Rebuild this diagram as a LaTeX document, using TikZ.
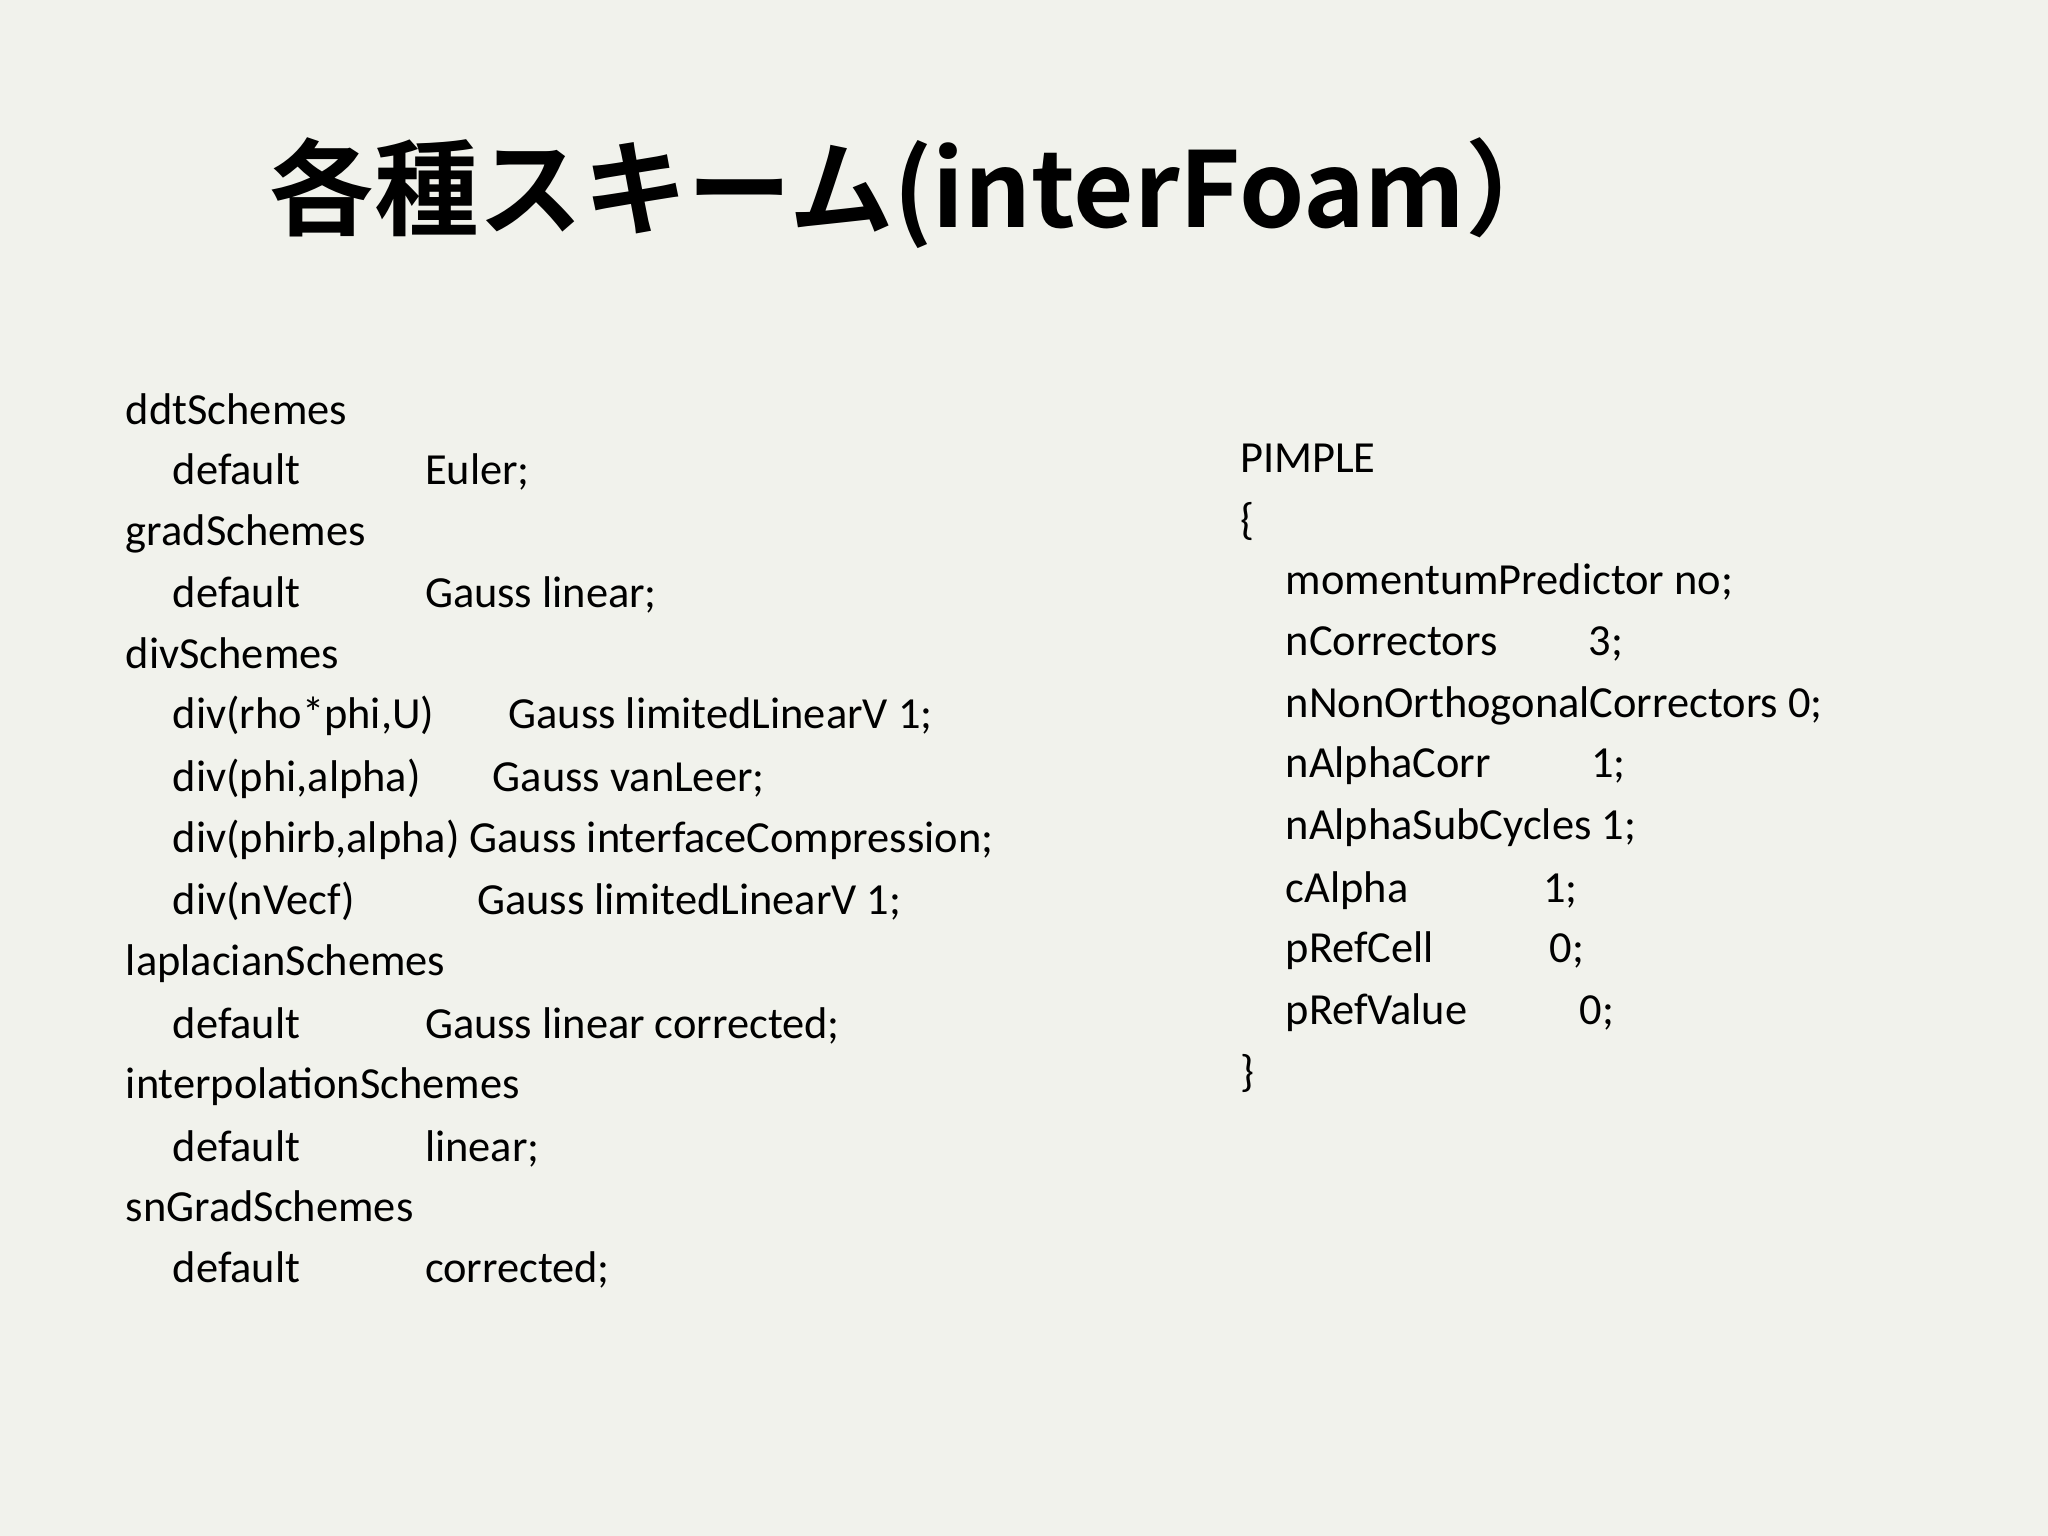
\documentclass[tikz,border=0pt]{standalone}
\usepackage{fontspec}
\setmainfont{Carlito}
\newfontfamily\jp{Noto Sans CJK JP}[BoldFont={* Bold}]
\begin{document}
\begin{tikzpicture}[x=0.5bp,y=-0.5bp,
  t/.style={anchor=base west,inner sep=0pt,font=\fontsize{17bp}{20bp}\selectfont}]
\fill[fill={rgb,255:red,241;green,242;blue,236}] (0,0) rectangle (1568,1176);
\useasboundingbox (0,0) rectangle (1568,1176);
\node[anchor=west,inner sep=0pt,font=\jp\bfseries\fontsize{40bp}{48bp}\selectfont] (title) at (206,148) {各種スキーム(interFoam）};
% left column
\node[t] (l1) at (96,325) {ddtSchemes};
\node[t] (l2a) at (132,371) {default}; \node[t] (l2b) at (325,371) {Euler;};
\node[t] (l3) at (96,418) {gradSchemes};
\node[t] (l4a) at (132,465) {default}; \node[t] (l4b) at (325,465) {Gauss linear;};
\node[t] (l5) at (96,512) {divSchemes};
\node[t] (l6a) at (132,558) {div(rho*phi,U)}; \node[t] (l6b) at (389,558) {Gauss limitedLinearV 1;};
\node[t] (l7a) at (132,606) {div(phi,alpha)}; \node[t] (l7b) at (377,606) {Gauss vanLeer;};
\node[t] (l8) at (132,653) {div(phirb,alpha) Gauss interfaceCompression;};
\node[t] (l9a) at (132,700) {div(nVecf)}; \node[t] (l9b) at (365,700) {Gauss limitedLinearV 1;};
\node[t] (l10) at (96,747) {laplacianSchemes};
\node[t] (l11a) at (132,795) {default}; \node[t] (l11b) at (325,795) {Gauss linear corrected;};
\node[t] (l12) at (96,841) {interpolationSchemes};
\node[t] (l13a) at (132,889) {default}; \node[t] (l13b) at (325,889) {linear;};
\node[t] (l14) at (96,935) {snGradSchemes};
\node[t] (l15a) at (132,982) {default}; \node[t] (l15b) at (325,982) {corrected;};
% right column
\node[t] (r1) at (949,362) {PIMPLE};
\node[t] (r2) at (949,409) {\{};
\node[t] (r3) at (984,455) {momentumPredictor no;};
\node[t] (r4a) at (984,502) {nCorrectors}; \node[t] (r4b) at (1216,502) {3;};
\node[t] (r5) at (984,549) {nNonOrthogonalCorrectors 0;};
\node[t] (r6a) at (984,595) {nAlphaCorr}; \node[t] (r6b) at (1218,595) {1;};
\node[t] (r7) at (984,643) {nAlphaSubCycles 1;};
\node[t] (r8a) at (984,691) {cAlpha}; \node[t] (r8b) at (1181,691) {1;};
\node[t] (r9a) at (984,737) {pRefCell}; \node[t] (r9b) at (1186,737) {0;};
\node[t] (r10a) at (984,784) {pRefValue}; \node[t] (r10b) at (1209,784) {0;};
\node[t] (r11) at (949,832) {\}};
\end{tikzpicture}
\end{document}
